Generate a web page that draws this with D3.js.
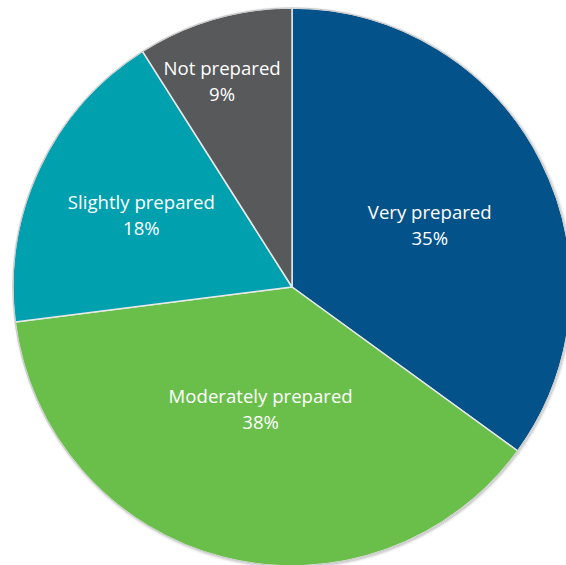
<!DOCTYPE html>
<html>
    <head>
        <meta charset="utf-8">
        <title>Preparedness pie</title>
        <style>
         body { margin: 0; background: #fff; }
         svg { display: block; }
         .lbl { font-family: "Open Sans", sans-serif; font-size: 18.6px; fill: #fff; }
        </style>
    </head>
    <body>
        <div id="chart"></div>
        <script src="https://cdn.jsdelivr.net/npm/d3@7"></script>
        <script>
         // values
         var categories = ["Very prepared", "Moderately prepared", "Slightly prepared", "Not prepared"]
         var shares = [35, 38, 18, 9]
         var colours = ["#03538a", "#6abf4b", "#00a0ae", "#58595b"]

         // where each label sits: distance from the centre (px) and a small turn (deg)
         var labelDist = [151, 126, 167, 218]
         var labelTurn = [2.8, 0, 0.4, -2.5]

         var W = 566, H = 565
         var cx = 292, cy = 287, R = 279

         var svg = d3.select("#chart").append("svg")
                     .attr("width", W).attr("height", H)

         var defs = svg.append("defs")
         var f = defs.append("filter").attr("id", "sh")
                     .attr("x", "-10%").attr("y", "-10%").attr("width", "120%").attr("height", "120%")
         f.append("feDropShadow").attr("dx", 1).attr("dy", 1).attr("stdDeviation", 1.5)
          .attr("flood-color", "#000").attr("flood-opacity", 0.35)

         var g = svg.append("g").attr("transform", "translate(" + cx + "," + cy + ")")

         var pie = d3.pie().sort(null).value(function(d){ return d })
         var arcs = pie(shares)
         var arc = d3.arc().innerRadius(0).outerRadius(R)

         g.append("circle").attr("r", R).attr("fill", "#ddd").attr("filter", "url(#sh)")

         g.selectAll("path.slice")
          .data(arcs)
          .enter().append("path")
          .attr("class", "slice")
          .attr("d", arc)
          .attr("fill", function(d, i){ return colours[i] })
          .attr("stroke", "#e8e8e8")
          .attr("stroke-width", 1.5)
          .attr("stroke-linejoin", "round")

         g.append("circle").attr("r", R).attr("fill", "none")
          .attr("stroke", "#c8c8c8").attr("stroke-width", 1)

         var lab = g.selectAll("text.lbl")
                    .data(arcs)
                    .enter().append("text")
                    .attr("class", "lbl")
                    .attr("text-anchor", "middle")
                    .attr("transform", function(d, i){
                        var a = (d.startAngle + d.endAngle) / 2 + labelTurn[i] * Math.PI / 180
                        var r = labelDist[i]
                        return "translate(" + (Math.sin(a) * r) + "," + (-Math.cos(a) * r) + ")"
                    })
         lab.append("tspan").attr("x", 0).attr("y", -6)
            .text(function(d, i){ return categories[i] })
         lab.append("tspan").attr("x", 0).attr("y", 20)
            .text(function(d, i){ return shares[i] + "%" })
        </script>
    </body>
</html>
